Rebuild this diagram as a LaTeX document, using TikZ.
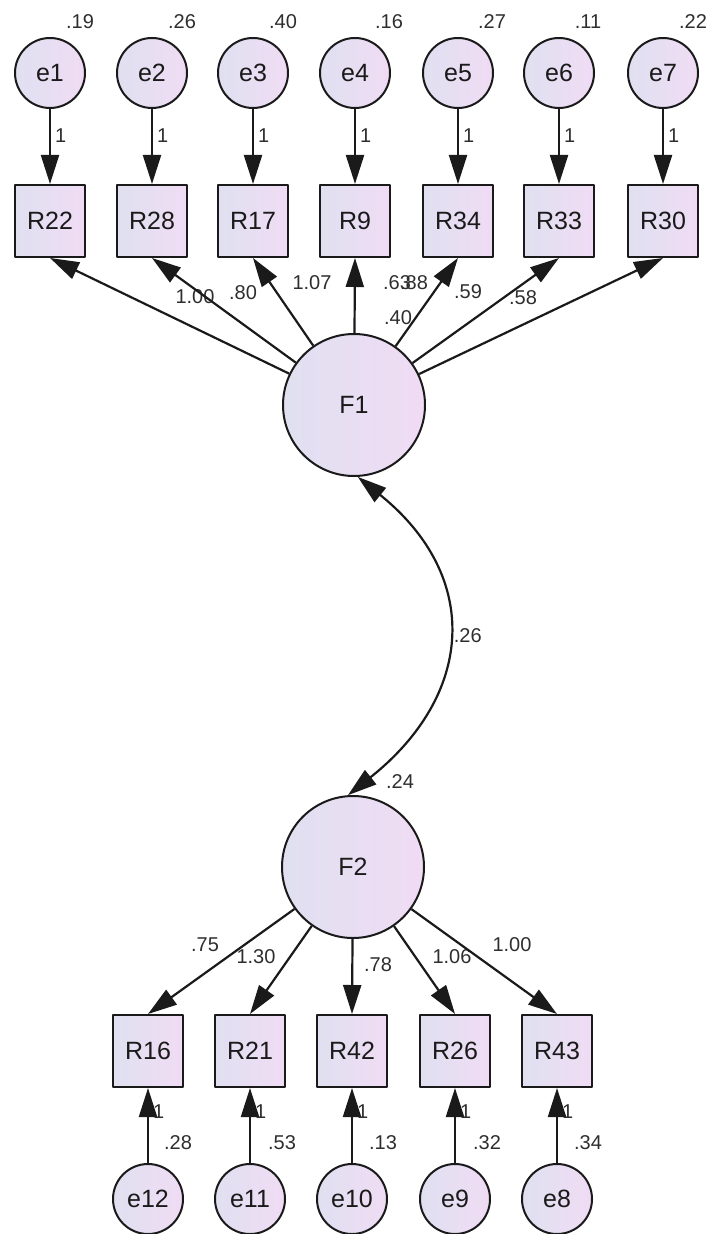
\documentclass[tikz,border=0pt]{standalone}
\usepackage{fontspec}
\setmainfont{Liberation Sans}
\usetikzlibrary{arrows.meta}
\definecolor{ink}{HTML}{1A1A1A}
\definecolor{ink2}{HTML}{2E2E2E}
\definecolor{cool}{HTML}{E0E0F1}
\definecolor{warm}{HTML}{F0DCF4}
\tikzset{
  >={Triangle[length=14.5pt,width=9pt]},
  every picture/.style={line join=round},
  latent/.style={circle, draw=ink, left color=cool, right color=warm, inner sep=0pt,
    minimum size=71pt, line width=1pt, text=ink, font=\fontsize{12.5}{14}\selectfont},
  err/.style={latent, minimum size=35pt},
  obs/.style={rectangle, draw=ink, left color=cool, right color=warm, inner sep=0pt,
    minimum width=35pt, minimum height=36pt, line width=1pt, text=ink,
    font=\fontsize{12.5}{14}\selectfont},
  path/.style={->, draw=ink, line width=1.1pt},
  cov/.style={<->, draw=ink, line width=1.1pt},
  est/.style={font=\fontsize{10}{11}\selectfont, text=ink2, inner sep=0pt},
}

\begin{document}
\begin{tikzpicture}[x=0.5pt, y=-0.5pt]
  \useasboundingbox (0,0) rectangle (712,1234);
  % ---------------- factor F1 ----------------
  \node[err] (e1) at (50,73) {e1};
  \node[err] (e2) at (152,73) {e2};
  \node[err] (e3) at (253,73) {e3};
  \node[err] (e4) at (355,73) {e4};
  \node[err] (e5) at (458,73) {e5};
  \node[err] (e6) at (559,73) {e6};
  \node[err] (e7) at (663,73) {e7};
  \node[obs] (r22) at (50,221) {R22};
  \node[obs] (r28) at (152,221) {R28};
  \node[obs] (r17) at (253,221) {R17};
  \node[obs] (r9) at (355,221) {R9};
  \node[obs] (r34) at (458,221) {R34};
  \node[obs] (r33) at (559,221) {R33};
  \node[obs] (r30) at (663,221) {R30};
  \node[latent] (F1) at (354,405) {F1};
  % error variances and fixed paths
  \node[est] (v1) at (80,22) {.19};
  \node[est] (v2) at (182,22) {.26};
  \node[est] (v3) at (283,22) {.40};
  \node[est] (v4) at (389,22) {.16};
  \node[est] (v5) at (492,22) {.27};
  \node[est] (v6) at (588,22) {.11};
  \node[est] (v7) at (693,22) {.22};
  \draw[path] (e1) -- (r22) node[pos=0.35, right=2pt, est] (w1) {1};
  \draw[path] (e2) -- (r28) node[pos=0.35, right=2pt, est] (w2) {1};
  \draw[path] (e3) -- (r17) node[pos=0.35, right=2pt, est] (w3) {1};
  \draw[path] (e4) -- (r9) node[pos=0.35, right=2pt, est] (w4) {1};
  \draw[path] (e5) -- (r34) node[pos=0.35, right=2pt, est] (w5) {1};
  \draw[path] (e6) -- (r33) node[pos=0.35, right=2pt, est] (w6) {1};
  \draw[path] (e7) -- (r30) node[pos=0.35, right=2pt, est] (w7) {1};
  % loadings
  \node[est] (l22) at (195,297) {1.00};
  \node[est] (l28) at (243,293) {.80};
  \node[est] (l17) at (312,283) {1.07};
  \node[est] (l9) at (397,283) {.63};
  \node[est] (l34) at (414,283) {.88};
  \node[est] (l33) at (468,292) {.59};
  \node[est] (l30) at (523,298) {.58};
  \node[est] (vF1) at (398,318) {.40};
  \draw[path] (F1) -- (r22.south);
  \draw[path] (F1) -- (r28.south);
  \draw[path] (F1) -- (r17.south);
  \draw[path] (F1) -- (r9.south);
  \draw[path] (F1) -- (r34.south);
  \draw[path] (F1) -- (r33.south);
  \draw[path] (F1) -- (r30.south);

  % ---------------- factor F2 ----------------
  \node[latent] (F2) at (353,867) {F2};
  \node[est] (vF2) at (400,782) {.24};
  \node[obs] (r16) at (148,1051) {R16};
  \node[obs] (r21) at (250,1051) {R21};
  \node[obs] (r42) at (352,1051) {R42};
  \node[obs] (r26) at (455,1051) {R26};
  \node[obs] (r43) at (557,1051) {R43};
  \node[err] (e12) at (148,1199) {e12};
  \node[err] (e11) at (250,1199) {e11};
  \node[err] (e10) at (352,1199) {e10};
  \node[err] (e9) at (455,1199) {e9};
  \node[err] (e8) at (557,1199) {e8};
  \node[est] (l16) at (205,945) {.75};
  \node[est] (l21) at (256,957) {1.30};
  \node[est] (l42) at (378,965) {.78};
  \node[est] (l26) at (452,957) {1.06};
  \node[est] (l43) at (512,945) {1.00};
  \draw[path] (F2) -- (r16.north);
  \draw[path] (F2) -- (r21.north);
  \draw[path] (F2) -- (r42.north);
  \draw[path] (F2) -- (r26.north);
  \draw[path] (F2) -- (r43.north);
  % error variances and fixed paths
  \draw[path] (e12) -- (r16) node[pos=0.68, right=2pt, est] (w12) {1};
  \draw[path] (e11) -- (r21) node[pos=0.68, right=2pt, est] (w11) {1};
  \draw[path] (e10) -- (r42) node[pos=0.68, right=2pt, est] (w10) {1};
  \draw[path] (e9) -- (r26) node[pos=0.68, right=2pt, est] (w9) {1};
  \draw[path] (e8) -- (r43) node[pos=0.68, right=2pt, est] (w8) {1};
  \node[est] (v12) at (178,1143) {.28};
  \node[est] (v11) at (282,1143) {.53};
  \node[est] (v10) at (383,1143) {.13};
  \node[est] (v9) at (487,1143) {.32};
  \node[est] (v8) at (588,1143) {.34};

  % ---------------- covariance ----------------
  \draw[cov] (F1.-87) .. controls (482,577) and (474,695) .. (F2.94)
    node[pos=0.5, right=3pt, est] (c12) {.26};
\end{tikzpicture}
\end{document}
